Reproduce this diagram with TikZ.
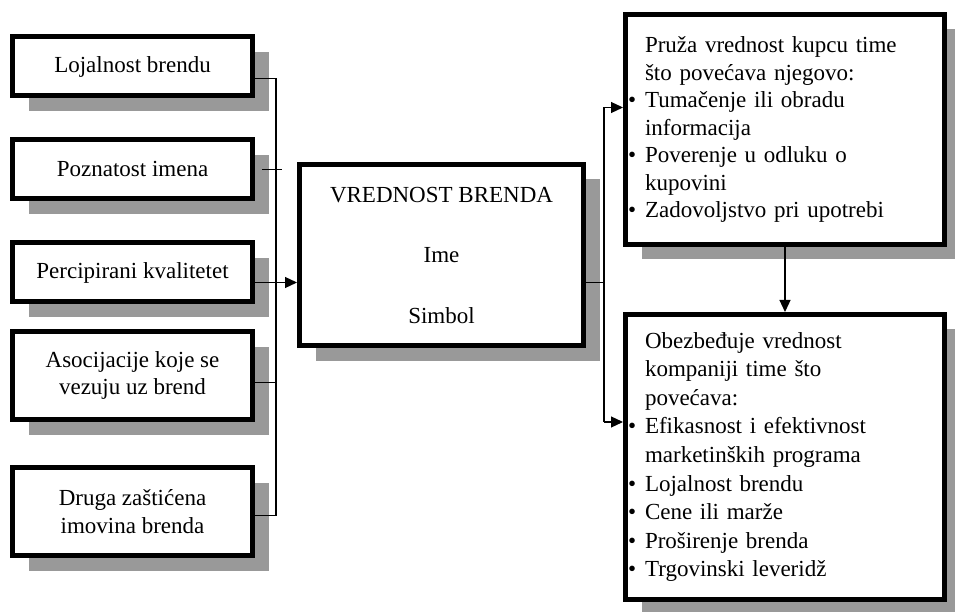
\documentclass[tikz,border=0pt]{standalone}
\usepackage{fontspec}
\setmainfont{Liberation Serif}
\usetikzlibrary{shadows,arrows.meta}

\newcommand{\bul}{\hspace*{-17pt}\makebox[17pt][l]{\textbullet}}

\begin{document}
\begin{tikzpicture}[
            x=1pt, y=1pt,
            node distance=103pt,
            font=\fontsize{23}{27.5}\selectfont,
            box/.style={rectangle, draw, line width=5pt, fill=white, align=center,
                drop shadow={shadow xshift=16pt, shadow yshift=-15pt, opacity=1, fill=black!40}},
            leftbox/.style={box, minimum width=240pt, minimum height=59pt},
            listbox/.style={box, align=left, text width=280pt, inner xsep=19.5pt},
            conn/.style={line width=1.2pt},
            arrow/.style={conn, -{Triangle[length=12pt, width=11pt]}}
        ]
            \useasboundingbox (0,0) rectangle (955,611);

            % Nodes
            \node[leftbox] (loyal) at (132.5,544.5) {Lojalnost brendu};
            \node[leftbox, below of=loyal] (name) {Poznatost imena};
            \node[leftbox, below of=name] (quality) {Percipirani kvalitetet};
            \node[leftbox, below of=quality, minimum height=88pt] (assoc) {Asocijacije koje se\\vezuju uz brend};
            \node[leftbox, below of=assoc, yshift=-33pt, minimum height=88pt] (assets) {Druga zaštićena\\imovina brenda};
            \node[box, minimum width=284pt, minimum height=181pt] (equity) at (441.5,356) {VREDNOST BRENDA\\[33pt]Ime\\[33pt]Simbol};
            \node[listbox, minimum height=230pt] (customer) at (785,481.5) {Pruža vrednost kupcu time\\
                što povećava njegovo:\\
                \bul Tumačenje ili obradu\\
                informacija\\
                \bul Poverenje u odluku o\\
                kupovini\\
                \bul Zadovoljstvo pri upotrebi};
            \node[listbox, below of=customer, node distance=327.5pt, minimum height=285pt,
                font=\fontsize{23}{28.6}\selectfont] (company) {Obezbeđuje vrednost\\
                kompaniji time što\\
                povećava:\\
                \bul Efikasnost i efektivnost\\
                marketinških programa\\
                \bul Lojalnost brendu\\
                \bul Cene ili marže\\
                \bul Proširenje brenda\\
                \bul Trgovinski leveridž};

            % Connectors
            \coordinate (lbus) at ([xshift=21pt]loyal.east);
            \coordinate (rbus) at ([xshift=18pt]equity.east);
            \draw[conn] ([yshift=-12pt]loyal.east) -| ([yshift=-4pt]assets.east -| lbus) -- ([yshift=-4pt]assets.east);
            \draw[conn] ([xshift=7pt]name.east) -- ([xshift=6pt]name.east -| lbus);
            \draw[conn] ([yshift=-7pt]assoc.east) -- ([yshift=-7pt]assoc.east -| lbus);
            \draw[arrow] ([yshift=-10pt]quality.east) -- ([yshift=-10pt]quality.east -| equity.west);
            \draw[conn] ([yshift=-10pt]quality.east -| equity.east) -- ([yshift=-10pt]quality.east -| rbus);
            \draw[arrow] ([yshift=35pt]company.west -| rbus) |- ([yshift=22pt]customer.west);
            \draw[arrow] ([yshift=35pt]company.west -| rbus) -- ([yshift=35pt]company.west);
            \draw[arrow] (customer.south) -- (company.north);
        \end{tikzpicture}
\end{document}
